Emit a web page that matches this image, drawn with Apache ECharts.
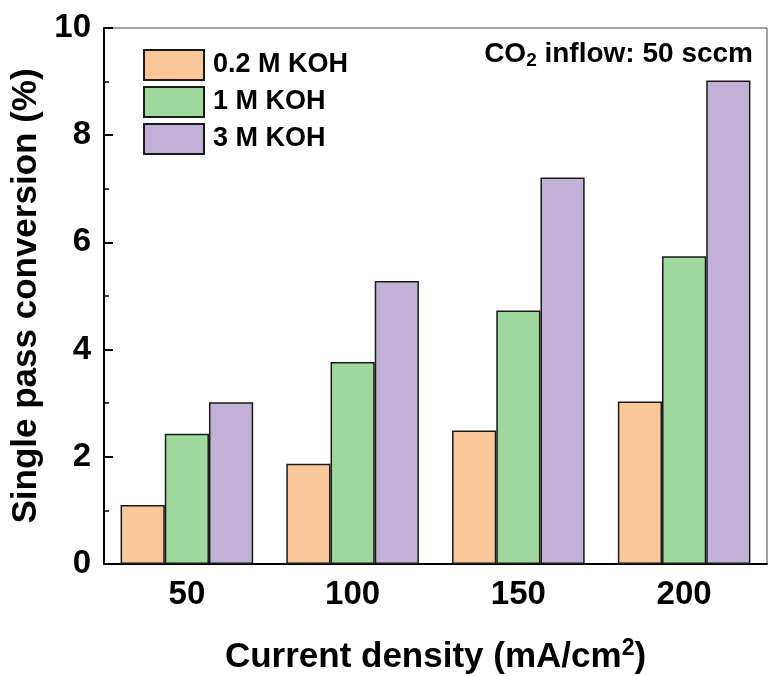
<!DOCTYPE html>
<html>
<head>
<meta charset="utf-8">
<script src="https://cdn.jsdelivr.net/npm/echarts@6/dist/echarts.min.js"></script>
<style>
  html, body { margin: 0; padding: 0; background: #fff; }
  #chart { width: 769px; height: 676px; }
</style>
</head>
<body>
<div id="chart"></div>
<script>
/* single pass conversion vs current density */

const categories = ['50', '100', '150', '200'];
const seriesNames = ['0.2 M KOH', '1 M KOH', '3 M KOH'];
const koh02 = [1.10, 1.87, 2.49, 3.03];
const koh1 = [2.43, 3.77, 4.73, 5.74];
const koh3 = [3.02, 5.28, 7.21, 9.02];
const yTicks = [0, 2, 4, 6, 8, 10];

const FONT = 'Arial, "Liberation Sans", sans-serif';
const colors = ['#FAC898', '#9FD89D', '#C2B1D6'];

const chart = echarts.init(document.getElementById('chart'));

function barSeries(name, data, i) {
    return {
        name,
        type: 'bar',
        data,
        xAxisIndex: 0,
        barGap: '0%',
        barCategoryGap: '20%',
        itemStyle: { color: colors[i], borderColor: '#1a1a1a', borderWidth: 1.5 },
        emphasis: { disabled: true },
    };
}

chart.setOption({
    animation: false,
    grid: {
        left: 104, right: 2, top: 28, bottom: 112,
        show: true, borderColor: '#444', borderWidth: 1,
        outerBoundsMode: 'none',
    },
    legend: {
        orient: 'vertical',
        left: 143, top: 49,
        padding: 0,
        itemWidth: 60, itemHeight: 30, itemGap: 5,
        icon: 'rect',
        data: seriesNames,
        textStyle: { fontFamily: FONT, fontWeight: 'bold', fontSize: 27, color: '#000', padding: [0, 0, 0, 4] },
    },
    xAxis: [
        {
            type: 'category',
            data: categories,
            name: 'Current density (mA/cm{sup|2})',
            nameLocation: 'middle',
            nameGap: 73,
            nameTextStyle: {
                fontFamily: FONT, fontWeight: 'bold', fontSize: 35, color: '#000',
                rich: { sup: { fontFamily: FONT, fontWeight: 'bold', fontSize: 23, verticalAlign: 'top', padding: [0, 0, 18, 0] } },
            },
            axisLine: { lineStyle: { color: '#000', width: 2 } },
            axisTick: { inside: true, alignWithLabel: true, length: 10, lineStyle: { color: '#000', width: 2 } },
            axisLabel: { fontFamily: FONT, fontWeight: 'bold', fontSize: 33, color: '#000', margin: 14 },
        },
        {
            type: 'category',
            data: categories,
            position: 'bottom',
            axisLine: { show: false },
            axisTick: { inside: true, length: 4, lineStyle: { color: '#000', width: 2 } },
            axisLabel: { show: false },
        },
    ],
    yAxis: {
        type: 'value',
        min: 0, max: 10, interval: 2,
        name: 'Single pass conversion (%)',
        nameLocation: 'middle',
        nameGap: 59,
        nameTextStyle: { fontFamily: FONT, fontWeight: 'bold', fontSize: 35, color: '#000' },
        axisLine: { show: true, lineStyle: { color: '#000', width: 2 } },
        axisTick: { show: true, inside: true, length: 9, lineStyle: { color: '#000', width: 2 } },
        minorTick: { show: true, splitNumber: 2, length: 5, lineStyle: { color: '#000', width: 1.5 } },
        splitLine: { show: false },
        axisLabel: {
            fontFamily: FONT, fontWeight: 'bold', fontSize: 33, color: '#000', margin: 13,
            formatter: v => yTicks.includes(v) ? String(v) : '',
        },
    },
    graphic: [{
        type: 'text',
        right: 16, top: 40,
        style: {
            text: 'CO{sub|2} inflow: 50 sccm',
            fontFamily: FONT, fontWeight: 'bold', fontSize: 28, fill: '#000',
            rich: { sub: { fontFamily: FONT, fontWeight: 'bold', fontSize: 19, verticalAlign: 'bottom', padding: [13, 0, 0, 0] } },
        },
    }],
    series: [
        barSeries(seriesNames[0], koh02, 0),
        barSeries(seriesNames[1], koh1, 1),
        barSeries(seriesNames[2], koh3, 2),
    ],
}, true);
</script>
</body>
</html>
